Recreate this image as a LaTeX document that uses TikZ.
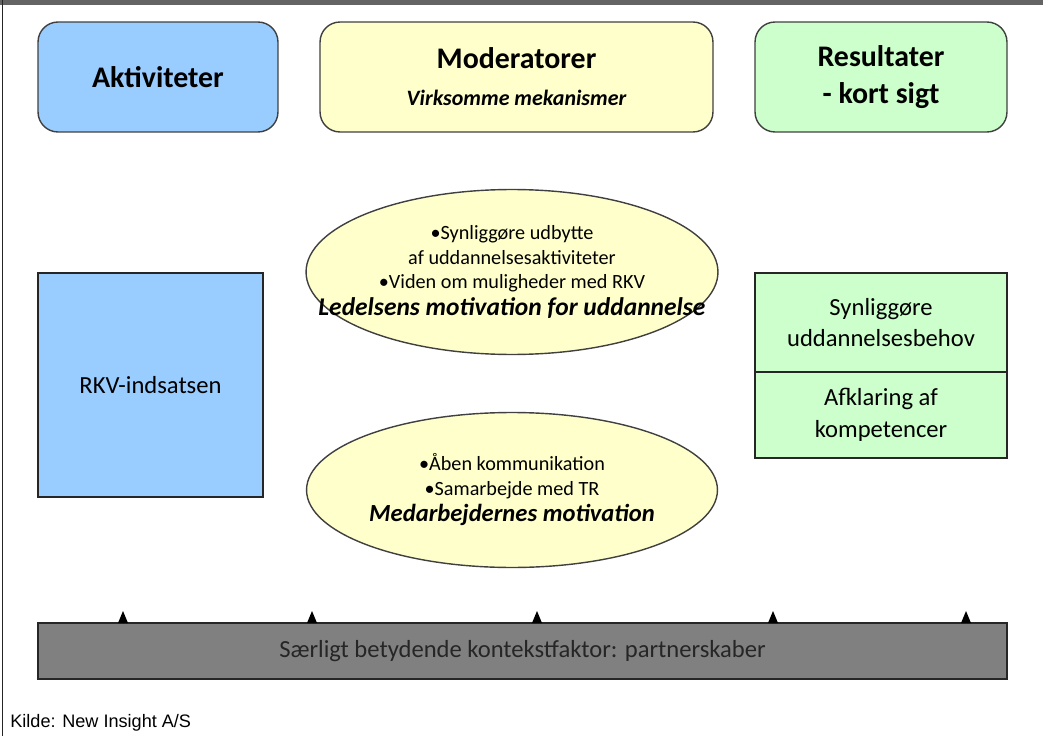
\documentclass[tikz,border=0pt]{standalone}
\usepackage{fontspec}
\setmainfont{Carlito}
\newfontfamily\kildefont{Liberation Sans}
\usetikzlibrary{shapes.geometric}

\definecolor{actblue}{RGB}{153,204,255}
\definecolor{modyellow}{RGB}{255,255,204}
\definecolor{resgreen}{RGB}{204,255,204}
\definecolor{barfill}{RGB}{128,128,128}
\definecolor{topband}{RGB}{100,100,100}

\begin{document}
\begin{tikzpicture}[x=0.02cm,y=-0.02cm,
  headbox/.style={rectangle,rounded corners=0.4cm,draw=black!75,thick,minimum height=2.2cm,align=center,
    font=\fontsize{17}{21}\selectfont\bfseries},
  plainbox/.style={rectangle,draw=black!85,thick,align=center,font=\fontsize{14}{18}\selectfont},
  mechanism/.style={ellipse,draw=black!75,thick,fill=modyellow,inner sep=0pt},
  mechtext/.style={align=center,inner sep=0pt,font=\fontsize{11.5}{14}\selectfont}]
\useasboundingbox (0,0) rectangle (1043,736);
\fill[topband] (0,0) rectangle (1043,5);
\draw[black!85] (2,0) -- (2,736);

% headings
\node [headbox,fill=actblue,minimum width=4.8cm] (akt) at (158,77) {Aktiviteter};
\node [headbox,fill=modyellow,minimum width=7.86cm] (mod) at (516.5,77)
  {Moderatorer\\{\fontsize{12.5}{15}\selectfont\itshape Virksomme mekanismer}};
\node [headbox,fill=resgreen,minimum width=5.04cm] (res) at (881,77) {Resultater\\- kort sigt};

% activity, mechanisms and results
\node [plainbox,fill=actblue,minimum width=4.5cm,minimum height=4.48cm] (rkv) at (150.5,385) {RKV-indsatsen};
\node [mechanism,minimum width=8.24cm,minimum height=3.3cm] (ledelse) at (512,272) {};
\node [mechtext] (ledelsetxt) at (ledelse) {•Synliggøre udbytte\\af uddannelsesaktiviteter\\•Viden om muligheder med RKV\\[1pt]
   {\fontsize{14.5}{16}\selectfont\bfseries\itshape Ledelsens motivation for uddannelse}};
\node [mechanism,minimum width=8.22cm,minimum height=3.1cm] (medarb) at (512,490) {};
\node [mechtext] (medarbtxt) at (medarb) {•Åben kommunikation\\•Samarbejde med TR\\[1pt]
   {\fontsize{14}{16}\selectfont\bfseries\itshape Medarbejdernes motivation}};
\node [plainbox,fill=resgreen,minimum width=5.04cm,minimum height=1.98cm] (behov) at (881,322.5) {Synliggøre\\uddannelsesbehov};
\node [plainbox,fill=resgreen,minimum width=5.04cm,minimum height=1.72cm] (kompet) at (881,415) {Afklaring af\\kompetencer};

% context
\node [plainbox,fill=barfill,text=black!85,minimum width=19.38cm,minimum height=1.12cm] (kontekst) at (522.5,651)
  {Særligt betydende kontekstfaktor: partnerskaber};
\foreach \x in {123,312,537,773,966}
  \fill (\x-5,623) -- ++(10,0) -- (\x,611) -- cycle;

\node [anchor=base west,inner sep=0pt,font=\kildefont\fontsize{10.3}{12}\selectfont] (kilde) at (10,727) {Kilde: New Insight A/S};
\end{tikzpicture}
\end{document}
